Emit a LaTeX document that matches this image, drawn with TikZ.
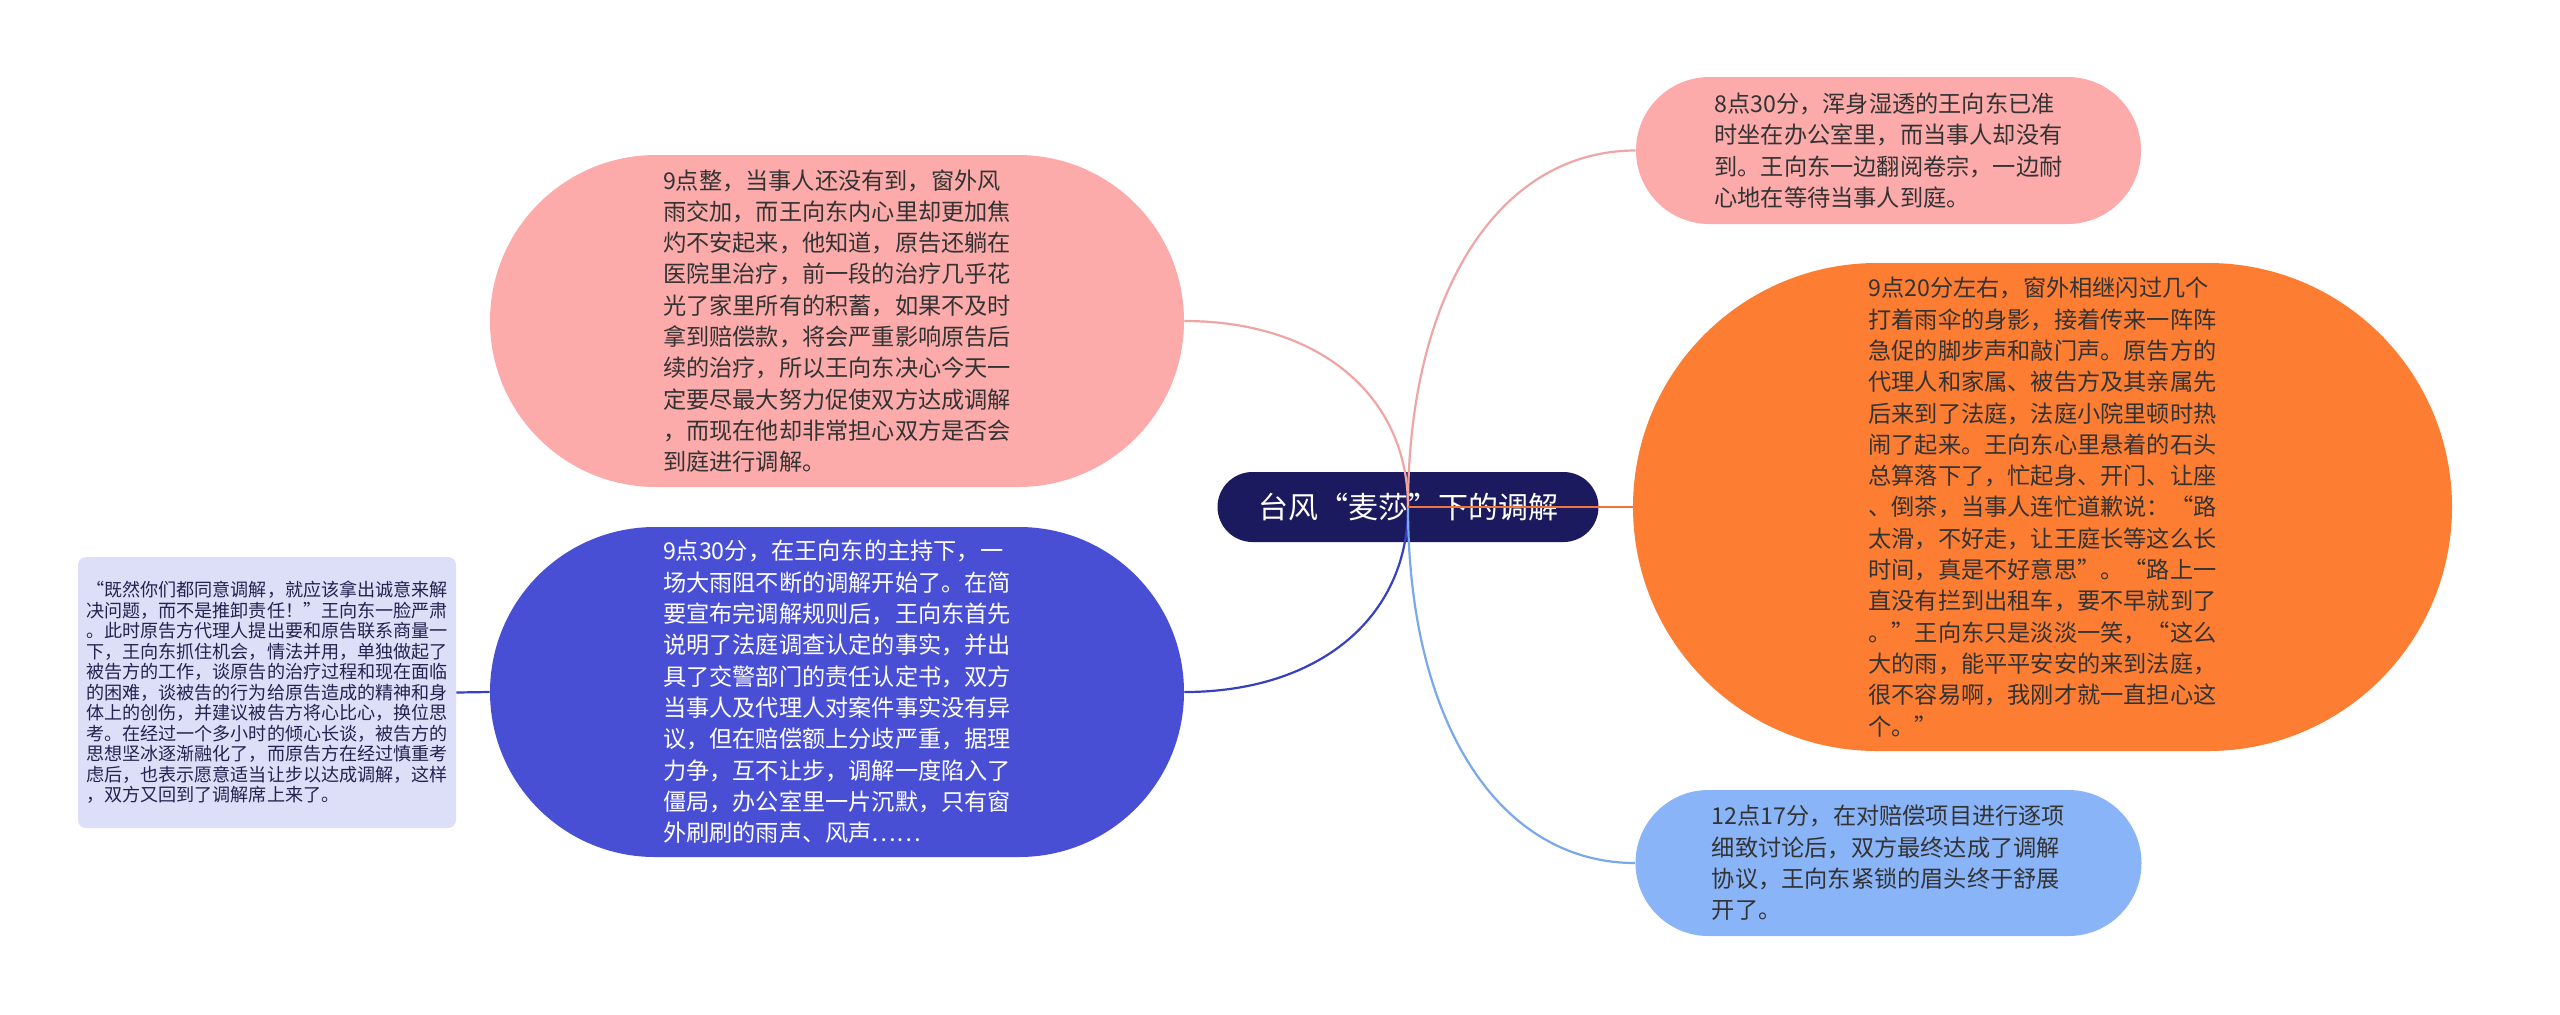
\documentclass[tikz,border=0pt]{standalone}
\usepackage{fontspec}
\setmainfont{Noto Sans CJK SC}
\definecolor{rootc}{RGB}{27,26,94}
\definecolor{pinkc}{RGB}{252,170,170}
\definecolor{orangec}{RGB}{253,125,50}
\definecolor{lbluec}{RGB}{138,180,248}
\definecolor{dbluec}{RGB}{73,79,213}
\definecolor{lavc}{RGB}{221,222,247}
\definecolor{txtc}{RGB}{51,51,51}
\definecolor{ltxtc}{RGB}{35,35,80}
\definecolor{pinkl}{RGB}{240,165,165}
\definecolor{orangel}{RGB}{238,118,58}
\definecolor{dbluel}{RGB}{55,64,190}
\definecolor{lbluel}{RGB}{122,168,236}
\begin{document}
\begin{tikzpicture}[x=0.5pt,y=-0.5pt,
  rootbox/.style={rectangle, inner sep=0pt, fill=rootc, text=white,
    minimum width=190.5pt, minimum height=35pt, rounded corners=17.5pt,
    font=\fontsize{15pt}{18pt}\selectfont},
  pill/.style={rectangle, inner sep=0pt, align=left,
    font=\fontsize{11.6pt}{15.65pt}\selectfont},
  smallbox/.style={rectangle, inner sep=0pt, align=left, fill=lavc, text=ltxtc,
    minimum width=189pt, minimum height=135.5pt, rounded corners=4pt,
    font=\fontsize{9.05pt}{10.25pt}\selectfont},
  conn/.style={line width=1.1pt}
]
\useasboundingbox[fill=white] (0,0) rectangle (2560,1014);

\node[rootbox] (R) at (1408,507) {台风“麦莎”下的调解};

\node[pill, fill=pinkc, text=txtc, minimum width=347pt, minimum height=166pt, rounded corners=83pt] (P1) at (837,321)
{9点整，当事人还没有到，窗外风\\雨交加，而王向东内心里却更加焦\\灼不安起来，他知道，原告还躺在\\医院里治疗，前一段的治疗几乎花\\光了家里所有的积蓄，如果不及时\\拿到赔偿款，将会严重影响原告后\\续的治疗，所以王向东决心今天一\\定要尽最大努力促使双方达成调解\\，而现在他却非常担心双方是否会\\到庭进行调解。};

\node[pill, fill=dbluec, text=white, minimum width=347pt, minimum height=165pt, rounded corners=82.5pt] (B1) at (837,692)
{9点30分，在王向东的主持下，一\\场大雨阻不断的调解开始了。在简\\要宣布完调解规则后，王向东首先\\说明了法庭调查认定的事实，并出\\具了交警部门的责任认定书，双方\\当事人及代理人对案件事实没有异\\议，但在赔偿额上分歧严重，据理\\力争，互不让步，调解一度陷入了\\僵局，办公室里一片沉默，只有窗\\外刷刷的雨声、风声……};

\node[smallbox] (L) at (267,692.5)
{“既然你们都同意调解，就应该拿出诚意来解\\决问题，而不是推卸责任！”王向东一脸严肃\\。此时原告方代理人提出要和原告联系商量一\\下，王向东抓住机会，情法并用，单独做起了\\被告方的工作，谈原告的治疗过程和现在面临\\的困难，谈被告的行为给原告造成的精神和身\\体上的创伤，并建议被告方将心比心，换位思\\考。在经过一个多小时的倾心长谈，被告方的\\思想坚冰逐渐融化了，而原告方在经过慎重考\\虑后，也表示愿意适当让步以达成调解，这样\\，双方又回到了调解席上来了。};

\node[pill, fill=pinkc, text=txtc, minimum width=252.5pt, minimum height=73.5pt, rounded corners=36.75pt] (P2) at (1888.5,150.5)
{8点30分，浑身湿透的王向东已准\\时坐在办公室里，而当事人却没有\\到。王向东一边翻阅卷宗，一边耐\\心地在等待当事人到庭。};

\node[pill, fill=orangec, text=txtc, minimum width=409.5pt, minimum height=244pt, rounded corners=122pt] (O) at (2042.5,507)
{9点20分左右，窗外相继闪过几个\\打着雨伞的身影，接着传来一阵阵\\急促的脚步声和敲门声。原告方的\\代理人和家属、被告方及其亲属先\\后来到了法庭，法庭小院里顿时热\\闹了起来。王向东心里悬着的石头\\总算落下了，忙起身、开门、让座\\、倒茶，当事人连忙道歉说：“路\\太滑，不好走，让王庭长等这么长\\时间，真是不好意思”。“路上一\\直没有拦到出租车，要不早就到了\\。”王向东只是淡淡一笑，“这么\\大的雨，能平平安安的来到法庭，\\很不容易啊，我刚才就一直担心这\\个。”};

\node[pill, fill=lbluec, text=txtc, minimum width=253pt, minimum height=73pt, rounded corners=36.5pt] (B2) at (1888.5,863)
{12点17分，在对赔偿项目进行逐项\\细致讨论后，双方最终达成了调解\\协议，王向东紧锁的眉头终于舒展\\开了。};

\draw[conn, pinkl] (R.center) .. controls +(0,-112) and +(134,0) .. (P1.east);
\draw[conn, dbluel] (R.center) .. controls +(0,111) and +(134,0) .. (B1.west -| B1.east);
\draw[conn, pinkl] (R.center) .. controls +(0,-214) and +(-137,0) .. (P2.west);
\draw[conn, lbluel] (R.center) .. controls +(0,214) and +(-137,0) .. (B2.west);
\draw[conn, orangel] (R.center) -- (O.west);
\draw[conn, dbluel] (L.east) -- (B1.west);
\end{tikzpicture}
\end{document}
